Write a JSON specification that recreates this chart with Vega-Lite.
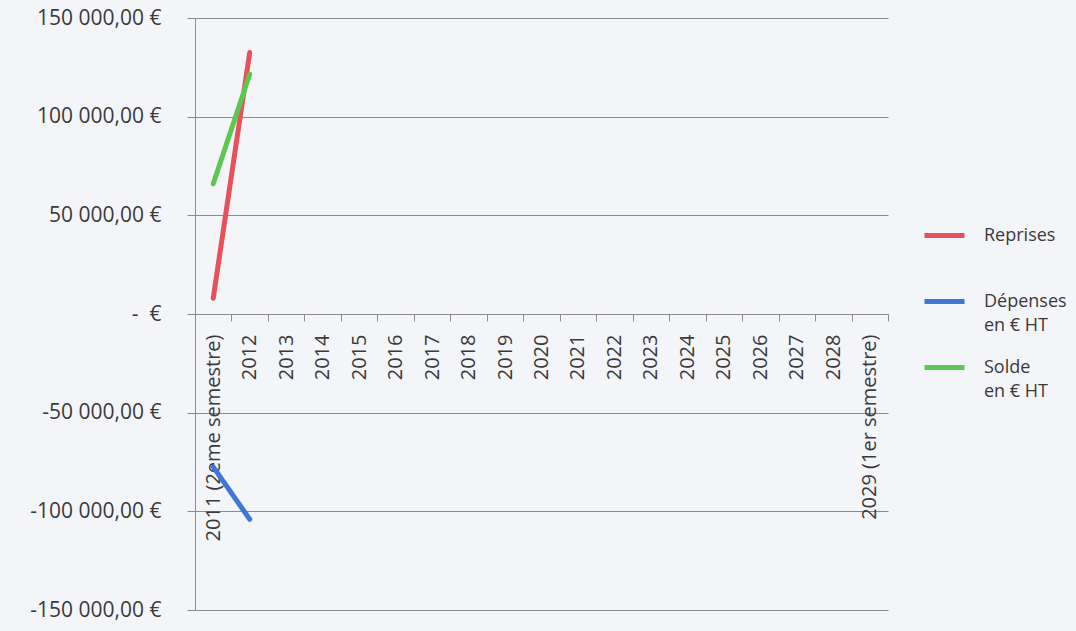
{
  "$schema": "https://vega.github.io/schema/vega-lite/v6.json",
  "width": 693,
  "height": 592,
  "autosize": {"type": "none"},
  "padding": {"left": 195, "top": 18, "right": 188, "bottom": 21},
  "background": "#f4f5f9",
  "config": {
    "view": {"stroke": null},
    "font": "Open Sans",
    "locale": {
      "number": {"decimal": ",", "thousands": " ", "grouping": [3], "currency": ["", " €"], "minus": "-"}
    }
  },
  "data": {
    "values": [
      {"annee": "2011 (2eme semestre)", "serie": "Reprises", "valeur": 8000},
      {"annee": "2012", "serie": "Reprises", "valeur": 132500},
      {"annee": "2011 (2eme semestre)", "serie": "Dépenses en € HT", "valeur": -77500},
      {"annee": "2012", "serie": "Dépenses en € HT", "valeur": -104000},
      {"annee": "2011 (2eme semestre)", "serie": "Solde en € HT", "valeur": 66000},
      {"annee": "2012", "serie": "Solde en € HT", "valeur": 121500}
    ]
  },
  "mark": {"type": "line", "strokeWidth": 5, "strokeCap": "round"},
  "encoding": {
    "x": {
      "field": "annee",
      "type": "ordinal",
      "sort": null,
      "scale": {
        "type": "band",
        "paddingInner": 0,
        "paddingOuter": 0,
        "domain": ["2011 (2eme semestre)", "2012", "2013", "2014", "2015", "2016", "2017", "2018", "2019", "2020", "2021", "2022", "2023", "2024", "2025", "2026", "2027", "2028", "2029 (1er semestre)"]
      },
      "axis": {
        "title": null,
        "orient": "bottom",
        "offset": -296,
        "labelAngle": -90,
        "labelAlign": "right",
        "labelBaseline": "middle",
        "labelFontSize": 20,
        "labelColor": "#3a3a3a",
        "labelPadding": 13,
        "labelLimit": 400,
        "tickBand": "extent",
        "tickSize": 7,
        "tickColor": "#8a8a8a",
        "domainColor": "#8a8a8a",
        "grid": false,
        "labelOverlap": false
      }
    },
    "y": {
      "field": "valeur",
      "type": "quantitative",
      "scale": {"domain": [-150000, 150000], "nice": false},
      "axis": {
        "title": null,
        "values": [-150000, -100000, -50000, 0, 50000, 100000, 150000],
        "format": "$,.2f",
        "labelExpr": "datum.value == 0 ? '-\u00a0\u00a0€' : datum.label",
        "labelFontSize": 21,
        "labelColor": "#3a3a3a",
        "labelPadding": 26,
        "tickSize": 8,
        "tickColor": "#8a8a8a",
        "domainColor": "#8a8a8a",
        "gridColor": "#8a8a8a",
        "gridOpacity": 1
      }
    },
    "color": {
      "field": "serie",
      "type": "nominal",
      "scale": {
        "domain": ["Reprises", "Dépenses en € HT", "Solde en € HT"],
        "range": ["#e8505b", "#3f78d4", "#5cc84e"]
      },
      "legend": {
        "title": null,
        "orient": "none",
        "legendX": 727,
        "legendY": 195,
        "symbolType": "stroke",
        "symbolSize": 1600,
        "symbolStrokeWidth": 5,
        "labelFontSize": 18,
        "labelColor": "#3a3a3a",
        "labelLimit": 200,
        "labelExpr": "datum.label == 'Reprises' ? ['Reprises', ' '] : datum.label == 'Dépenses en € HT' ? ['Dépenses', 'en € HT'] : ['Solde', 'en € HT']",
        "rowPadding": 10,
        "labelOffset": 17,
        "encode": {"labels": {"update": {"lineHeight": {"value": 24}}}}
      }
    }
  }
}
